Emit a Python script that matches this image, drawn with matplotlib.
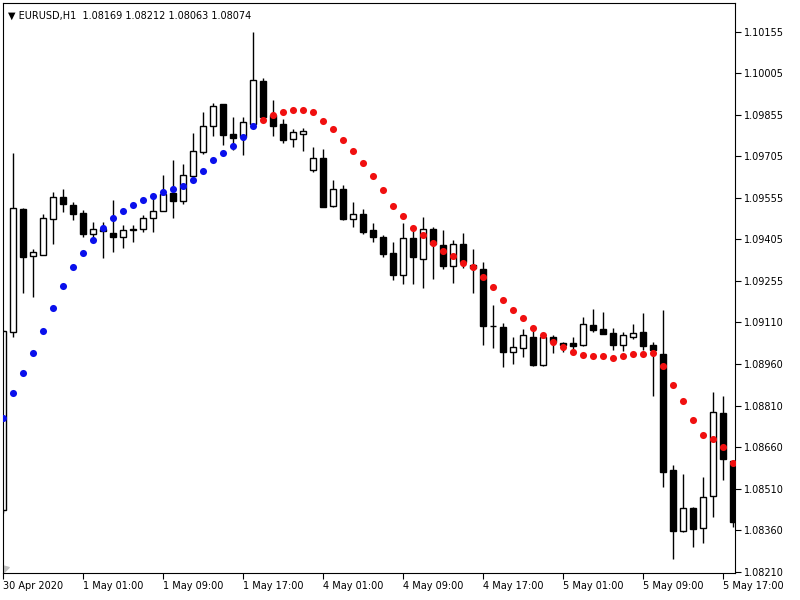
import matplotlib
matplotlib.use("Agg")
import matplotlib.pyplot as plt
import numpy as np

# Hourly EURUSD candles, 30 Apr 2020 17:00 onward (prices)
opens = [1.08432, 1.09075, 1.09515, 1.09347, 1.09351, 1.09480, 1.09559, 1.09531, 1.09503, 1.09425,
         1.09444, 1.09431, 1.09417, 1.09444, 1.09443, 1.09483, 1.09510, 1.09573, 1.09545, 1.09637,
         1.09722, 1.09817, 1.09893, 1.09786, 1.09777, 1.09823, 1.09979, 1.09855, 1.09823, 1.09768,
         1.09788, 1.09657, 1.09700, 1.09527, 1.09587, 1.09479, 1.09497, 1.09441, 1.09417, 1.09359,
         1.09280, 1.09413, 1.09338, 1.09443, 1.09385, 1.09312, 1.09389, 1.09315, 1.09299, 1.09096,
         1.09090, 1.09001, 1.09015, 1.09056, 1.08955, 1.09055, 1.09035, 1.09035, 1.09025, 1.09099,
         1.09083, 1.09071, 1.09027, 1.09057, 1.09075, 1.09027, 1.08993, 1.08576, 1.08357, 1.08438,
         1.08366, 1.08483, 1.08783, 1.08609]
highs = [1.09081, 1.09719, 1.09521, 1.09372, 1.09498, 1.09579, 1.09587, 1.09543, 1.09513, 1.09469,
         1.09471, 1.09549, 1.09459, 1.09459, 1.09495, 1.09560, 1.09639, 1.09693, 1.09679, 1.09791,
         1.09867, 1.09898, 1.09895, 1.09846, 1.09849, 1.10155, 1.09990, 1.09909, 1.09841, 1.09805,
         1.09808, 1.09741, 1.09733, 1.09621, 1.09603, 1.09543, 1.09515, 1.09467, 1.09423, 1.09398,
         1.09467, 1.09452, 1.09486, 1.09452, 1.09440, 1.09406, 1.09431, 1.09371, 1.09326, 1.09171,
         1.09105, 1.09054, 1.09083, 1.09084, 1.09070, 1.09063, 1.09038, 1.09054, 1.09126, 1.09155,
         1.09145, 1.09089, 1.09075, 1.09102, 1.09143, 1.09038, 1.09153, 1.08596, 1.08561, 1.08442,
         1.08551, 1.08858, 1.08843, 1.08612]
lows = [1.08421, 1.09056, 1.09215, 1.09198, 1.09349, 1.09390, 1.09505, 1.09477, 1.09415, 1.09405,
        1.09339, 1.09363, 1.09375, 1.09399, 1.09435, 1.09435, 1.09510, 1.09483, 1.09533, 1.09625,
        1.09716, 1.09779, 1.09747, 1.09729, 1.09711, 1.09815, 1.09833, 1.09778, 1.09753, 1.09741,
        1.09725, 1.09651, 1.09524, 1.09523, 1.09478, 1.09453, 1.09426, 1.09396, 1.09342, 1.09261,
        1.09246, 1.09248, 1.09231, 1.09263, 1.09302, 1.09249, 1.09303, 1.09213, 1.09027, 1.09015,
        1.08948, 1.08959, 1.08984, 1.08951, 1.08950, 1.08997, 1.09002, 1.09012, 1.09022, 1.09075,
        1.09066, 1.09009, 1.09005, 1.09047, 1.09009, 1.08843, 1.08516, 1.08255, 1.08354, 1.08299,
        1.08312, 1.08408, 1.08540, 1.08371]
closes = [1.09078, 1.09519, 1.09345, 1.09363, 1.09483, 1.09559, 1.09533, 1.09497, 1.09425, 1.09443,
          1.09437, 1.09417, 1.09439, 1.09439, 1.09484, 1.09510, 1.09570, 1.09545, 1.09639, 1.09726,
          1.09817, 1.09889, 1.09783, 1.09771, 1.09830, 1.09981, 1.09849, 1.09815, 1.09765, 1.09793,
          1.09799, 1.09700, 1.09525, 1.09589, 1.09479, 1.09497, 1.09432, 1.09417, 1.09354, 1.09279,
          1.09412, 1.09345, 1.09443, 1.09392, 1.09311, 1.09389, 1.09324, 1.09304, 1.09094, 1.09094,
          1.09002, 1.09018, 1.09061, 1.08955, 1.09055, 1.09039, 1.09027, 1.09023, 1.09101, 1.09079,
          1.09067, 1.09027, 1.09063, 1.09069, 1.09023, 1.09010, 1.08570, 1.08357, 1.08438, 1.08364,
          1.08479, 1.08785, 1.08615, 1.08390]

# Parabolic SAR dots (one per candle)
sar = [1.08765, 1.08855, 1.08927, 1.08999, 1.09077, 1.09161, 1.09239, 1.09306, 1.09359, 1.09405,
       1.09449, 1.09483, 1.09509, 1.09531, 1.09549, 1.09563, 1.09578, 1.09587, 1.09599, 1.09621,
       1.09653, 1.09693, 1.09719, 1.09743, 1.09774, 1.09815, 1.09836, 1.09855, 1.09865, 1.09873,
       1.09873, 1.09865, 1.09832, 1.09805, 1.09765, 1.09725, 1.09681, 1.09635, 1.09585, 1.09527,
       1.09491, 1.09449, 1.09423, 1.09395, 1.09365, 1.09347, 1.09323, 1.09306, 1.09270, 1.09234,
       1.09189, 1.09153, 1.09125, 1.09087, 1.09063, 1.09037, 1.09018, 1.09000, 1.08991, 1.08987,
       1.08986, 1.08981, 1.08986, 1.08995, 1.08995, 1.08999, 1.08951, 1.08883, 1.08825, 1.08756,
       1.08702, 1.08689, 1.08658, 1.08603]
sar_up_count = 26  # first 26 dots are below price (blue)

time_labels = ["30 Apr 2020", "1 May 01:00", "1 May 09:00", "1 May 17:00", "4 May 01:00",
               "4 May 09:00", "4 May 17:00", "5 May 01:00", "5 May 09:00", "5 May 17:00"]
price_labels = ["1.08210", "1.08360", "1.08510", "1.08660", "1.08810", "1.08960", "1.09110",
                "1.09255", "1.09405", "1.09555", "1.09705", "1.09855", "1.10005", "1.10155"]
title_text = "\u25BC EURUSD,H1  1.08169 1.08212 1.08063 1.08074"

o = np.array(opens); h = np.array(highs); l = np.array(lows); c = np.array(closes)
x = np.arange(len(o))

fig = plt.figure(figsize=(8, 6), dpi=100)
ax = fig.add_axes([0.003125, 0.045, 0.9159, 0.9495])

ax.vlines(x, l, h, color="black", linewidth=1.0, zorder=1)
bull = c >= o
ax.bar(x, np.abs(c - o), bottom=np.minimum(o, c), width=0.6,
       color=np.where(bull, "white", "black"), edgecolor="black", linewidth=1.0, zorder=2)

s = np.array(sar)
ax.scatter(x[:sar_up_count], s[:sar_up_count], s=26, color="#0a10ec", zorder=3, linewidths=0)
ax.scatter(x[sar_up_count:], s[sar_up_count:], s=26, color="#f01010", zorder=3, linewidths=0)

ax.set_xlim(-0.08, 73.22)
ax.set_ylim(1.082053, 1.102573)

ax.yaxis.tick_right()
ax.set_yticks(np.linspace(1.08210, 1.10155, len(price_labels)))
ax.set_yticklabels(price_labels)
ax.set_xticks(x[::8][:len(time_labels)])
ax.set_xticklabels(time_labels, ha="left")
ax.tick_params(axis="both", direction="out", length=4, width=0.8, labelsize=7, colors="black")
ax.tick_params(axis="x", pad=2)
ax.tick_params(axis="y", pad=2)
for sp in ax.spines.values():
    sp.set_color("black")
    sp.set_linewidth(0.8)

ax.text(0.008, 0.987, title_text, transform=ax.transAxes, fontsize=7, ha="left", va="top",
        color="black")
# small grey shift marker at bottom-left
ax.scatter([0.15], [1.08225], marker=(3, 0, 45), s=30, color="#c0c0c0", zorder=0)

fig.savefig("out.png", dpi=100)
